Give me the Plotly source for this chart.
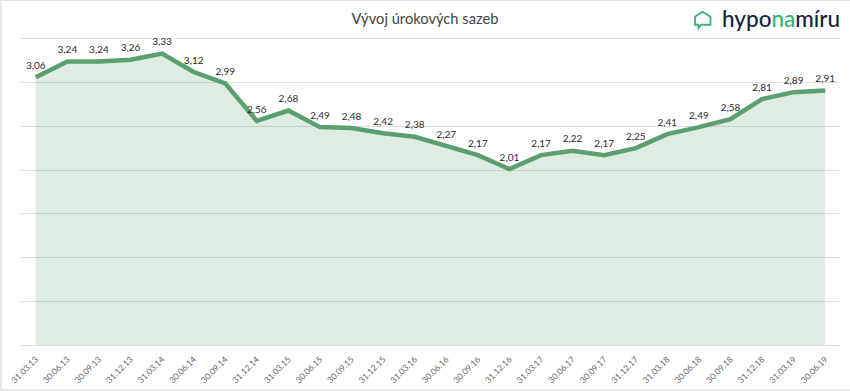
import plotly.graph_objects as go

dates = ["31.03.13","30.06.13","30.09.13","31.12.13","31.03.14","30.06.14","30.09.14","31.12.14","31.03.15",
         "30.06.15","30.09.15","31.12.15","31.03.16","30.06.16","30.09.16","31.12.16","31.03.17","30.06.17",
         "30.09.17","31.12.17","31.03.18","30.06.18","30.09.18","31.12.18","31.03.19","30.06.19"]
rates = [3.06,3.24,3.24,3.26,3.33,3.12,2.99,2.56,2.68,2.49,2.48,2.42,2.38,2.27,2.17,2.01,2.17,2.22,2.17,2.25,
         2.41,2.49,2.58,2.81,2.89,2.91]
labels = [f"{v:.2f}".replace(".", ",") for v in rates]

W, H = 850, 391
L, R, T, B = 20, 9, 37.25, 46
pw, ph = W - L - R, H - T - B
px = lambda x: (x - L) / pw
py = lambda y: 1 - (y - T) / ph

fig = go.Figure()
fig.add_trace(go.Scatter(x=dates, y=rates, mode="none", fill="tozeroy",
                         fillcolor="rgba(92,160,112,0.2)", hoverinfo="skip"))
fig.add_trace(go.Scatter(x=dates, y=rates, mode="lines", line=dict(color="#5b9f6e", width=4.5)))
fig.add_trace(go.Scatter(x=dates, y=rates, mode="markers+text", text=labels, textposition="top center",
                         marker=dict(size=8, opacity=0),
                         textfont=dict(family="Lato, Carlito, sans-serif", size=10, color="#2b2b2b"),
                         cliponaxis=False))

# frame
fig.add_shape(type="rect", xref="paper", yref="paper", x0=px(1), x1=px(851), y0=py(390), y1=py(0.5),
              line=dict(color="#e2e2e2", width=1.5), layer="below")

# logo icon
pts = [(702.5, 12), (710.5, 17), (710.5, 25), (701, 25), (698.5, 28.5), (698, 25), (695, 25), (695, 17)]
path = "M " + " L ".join(f"{px(a):.5f},{py(b):.5f}" for a, b in pts) + " Z"
fig.add_shape(type="path", xref="paper", yref="paper", path=path, line=dict(color="#35b27a", width=1.8))

fig.add_annotation(xref="paper", yref="paper", x=px(842), y=py(19), xanchor="right", yanchor="middle",
                   showarrow=False,
                   text='<span style="color:#14233f">hypo</span><span style="color:#35b27a">na</span>'
                        '<span style="color:#14233f">míru</span>',
                   font=dict(family="Lato, sans-serif", size=22.5, weight=500))

fig.update_layout(
    width=W, height=H, autosize=False,
    margin=dict(l=L, r=R, t=T, b=B),
    paper_bgcolor="white", plot_bgcolor="white", showlegend=False,
    title=dict(text="Vývoj úrokových sazeb", x=0.5, xanchor="center", xref="container", y=1 - 19 / H, yanchor="middle",
               font=dict(family="Lato, Carlito, sans-serif", size=14.7, color="#444444")),
    xaxis=dict(type="category", range=[-0.5, 25.5], tickangle=-45, showgrid=False, showline=False, zeroline=False,
               automargin=False, ticks="outside", ticklen=5, tickcolor="rgba(0,0,0,0)",
               tickfont=dict(family="Lato, Carlito, sans-serif", size=8.5, color="#666666")),
    yaxis=dict(range=[0, 3.52], dtick=0.5, showticklabels=False, ticks="", gridcolor="#dedede", gridwidth=1,
               automargin=False, zeroline=True, zerolinecolor="#dedede", zerolinewidth=1, showline=False),
)
fig.write_html("out.html", config={"displayModeBar": False},
               post_script="document.body.style.margin='0';document.body.style.overflow='hidden';")
